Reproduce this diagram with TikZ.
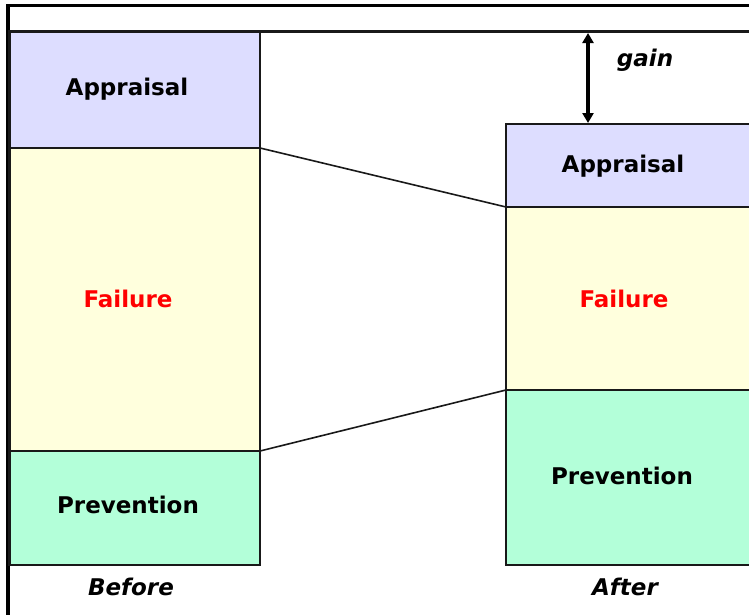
\documentclass[tikz,border=0pt]{standalone}
\usepackage{fontspec}
\setmainfont{DejaVu Sans}
\usetikzlibrary{arrows.meta}
\definecolor{appr}{RGB}{221,221,255}
\definecolor{fail}{RGB}{255,255,221}
\definecolor{prev}{RGB}{179,255,217}
\definecolor{edge}{RGB}{25,25,25}
\begin{document}
\begin{tikzpicture}[x=1pt,y=-1pt,
  blk/.style={draw=edge,line width=2.2pt},
  lbl/.style={font=\fontsize{23}{25}\selectfont\bfseries,inner sep=0pt},
  captxt/.style={font=\fontsize{23}{25}\selectfont\bfseries\itshape,inner sep=0pt},
  conn/.style={draw=edge,line width=1.6pt}]
\useasboundingbox (0,0) rectangle (749,614);
\begin{scope}
\clip (0,0) rectangle (749,614);
% frame
\draw[line width=3.4pt] (8,616) -- (8,5.5) -- (751,5.5);
% before column
\path[blk,fill=appr] (9.5,31.5) rectangle (260,148);
\path[blk,fill=fail] (9.5,148) rectangle (260,451);
\path[blk,fill=prev] (9.5,451) rectangle (260,565);
% after column
\path[blk,fill=appr] (506,124) rectangle (760,207);
\path[blk,fill=fail] (506,207) rectangle (760,390);
\path[blk,fill=prev] (506,390) rectangle (760,565);
% top reference line
\draw[draw=edge,line width=2.4pt] (260,31.5) -- (751,31.5);
\end{scope}
\node[lbl] (a1) at (127,89) {Appraisal};
\node[lbl,text=red] (f1) at (128,299) {Failure};
\node[lbl] (p1) at (128,505) {Prevention};
\node[captxt] (b1) at (131,587) {Before};
\node[lbl] (a2) at (623,166) {Appraisal};
\node[lbl,text=red] (f2) at (624,299) {Failure};
\node[lbl] (p2) at (622,476) {Prevention};
\node[captxt] (b2) at (625,587) {After};
\coordinate (g1) at (588,33);
\coordinate (g2) at (588,123);
\draw[line width=3.4pt,{Triangle[width=11pt,length=10pt]}-{Triangle[width=11pt,length=10pt]}] (g1) -- (g2);
\node[captxt] (gain) at (645,60) {gain};
\coordinate (bA) at (260,148);
\coordinate (bP) at (260,451);
\coordinate (aA) at (506,207);
\coordinate (aP) at (506,390);
\draw[conn] (bA) -- (aA);
\draw[conn] (bP) -- (aP);
\end{tikzpicture}
\end{document}
